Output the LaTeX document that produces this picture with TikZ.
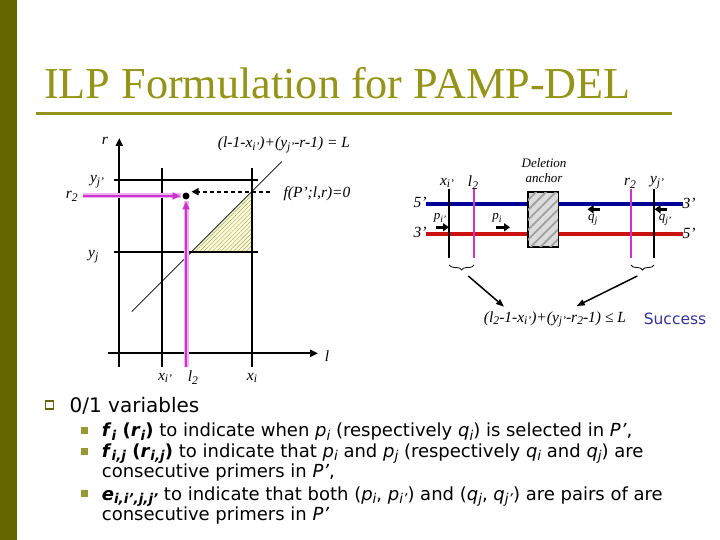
\documentclass[tikz,border=0pt]{standalone}
\usepackage{graphicx}
\usepackage{fontspec}
\setmainfont{Liberation Serif}
\newfontfamily\sansf{DejaVu Sans}
\usetikzlibrary{arrows.meta,patterns,patterns.meta,decorations.pathreplacing}
\definecolor{olivedark}{HTML}{666600}
\definecolor{titlecol}{HTML}{949418}
\definecolor{bulletcol}{HTML}{999933}
\definecolor{mag}{HTML}{CC33CC}
\definecolor{maglight}{HTML}{EEB0EE}
\definecolor{dnablue}{HTML}{000099}
\definecolor{dnared}{HTML}{CC1111}
\definecolor{succ}{HTML}{333399}
\definecolor{paleyellow}{HTML}{FBFBD8}
\definecolor{hatchline}{HTML}{A8A860}
\definecolor{boxgray}{HTML}{DCDCDC}
\definecolor{boxline}{HTML}{A0A0A0}
\newcommand{\sbs}[1]{\raisebox{-0.4ex}{\scalebox{0.75}{#1}}}
\begin{document}
\begin{tikzpicture}[x=1pt,y=-1pt,
  thickline/.style={line width=2.2pt,black},
  axisarrow/.style={line width=2.2pt,black,-{Triangle[length=8pt,width=7pt]}},
  magarrow/.style={line width=2pt,mag,-{Triangle[length=8pt,width=7pt]}},
  glow/.style={line width=5pt,maglight},
  lbl/.style={font=\fontsize{15.5}{18}\selectfont\itshape,inner sep=0pt},
  smalllbl/.style={font=\fontsize{13}{15}\selectfont\itshape,inner sep=0pt},
  blockarrow/.style={line width=3pt,black,-{Triangle[length=6pt,width=8pt]}},
  bigtxt/.style={font=\sansf\fontsize{20}{24}\selectfont,inner sep=0pt,anchor=base west},
  subtxt/.style={font=\sansf\fontsize{18}{21}\selectfont,inner sep=0pt,anchor=base west},
  subbullet/.style={fill=bulletcol,minimum size=7pt,inner sep=0pt},
]
\useasboundingbox (0,0) rectangle (720,540);
\fill[white] (0,0) rectangle (720,540);
\fill[olivedark] (0,0) rectangle (17,540);
% title
\node[font=\fontsize{44.2}{50}\selectfont,text=titlecol,inner sep=0pt,anchor=base west] (title) at (44,98.3) {ILP Formulation for PAMP-DEL};
\coordinate (ruleL) at (36,113.3);
\coordinate (ruleR) at (672,113.3);
\draw[titlecol,line width=3.5pt] (ruleL) -- (ruleR);

% ---------- left graph ----------
\coordinate (tri1) at (191.7,251.7);
\coordinate (tri2) at (252,251.7);
\coordinate (tri3) at (252,191.7);
\fill[paleyellow] (tri1) -- (tri2) -- (tri3) -- cycle;
\fill[pattern={Lines[angle=45,distance=3pt,line width=0.5pt]},pattern color=hatchline] (tri1) -- (tri2) -- (tri3) -- cycle;

\coordinate (rB) at (119.3,366.7);
\coordinate (rT) at (119.3,138);
\coordinate (lL) at (108,353.3);
\coordinate (lR) at (318,353.3);
\draw[axisarrow] (rB) -- (rT);
\draw[axisarrow] (lL) -- (lR);
\coordinate (xipT) at (161.7,168);
\coordinate (xipB) at (161.7,366.7);
\coordinate (xiT) at (252,168);
\coordinate (xiB) at (252,366.7);
\coordinate (yjpL) at (114,180);
\coordinate (yjpR) at (258,180);
\coordinate (yjL) at (114,251.7);
\coordinate (yjR) at (258,251.7);
\draw[thickline] (xipT) -- (xipB);
\draw[thickline] (xiT) -- (xiB);
\draw[thickline] (yjpL) -- (yjpR);
\draw[thickline] (yjL) -- (yjR);
\coordinate (diagA) at (131.7,311.7);
\coordinate (diagB) at (281.7,161.7);
\draw[line width=0.6pt] (diagA) -- (diagB);

\coordinate (l2B) at (186,366.7);
\coordinate (l2T) at (186,201.5);
\coordinate (r2L) at (83,196);
\coordinate (r2R) at (180.5,196);
\draw[glow] (l2B) -- (l2T);
\draw[glow] (r2L) -- (r2R);
\draw[magarrow] (l2B) -- (l2T);
\draw[magarrow] (r2L) -- (r2R);
\node[circle,fill=black,minimum size=7pt,inner sep=0pt] (dot) at (186,196) {};
\coordinate (dashS) at (270,191.7);
\coordinate (dashE) at (191.5,191.7);
\draw[line width=1.8pt,dash pattern=on 4pt off 3pt,-{Triangle[length=7pt,width=7pt]}] (dashS) -- (dashE);

\node[lbl] (rlab) at (105,141) {r};
\node[lbl] (llab) at (327,356) {l};
\node[lbl] (yjplab) at (97,181.7) {y\sbs{j’}};
\node[lbl] (r2lab) at (71.7,196.7) {r\sbs{2}};
\node[lbl] (yjlab) at (93.3,256.7) {y\sbs{j}};
\node[lbl] (eqlab) at (284,145) {(l-1-x\sbs{i’})+(y\sbs{j’}-r-1) = L};
\node[lbl] (flab) at (317,194) {f(P’;l,r)=0};
\node[lbl] (xiplab) at (165,378) {x\sbs{i’}};
\node[lbl] (l2lab) at (193,378) {l\sbs{2}};
\node[lbl] (xilab) at (252,378) {x\sbs{i}};

% ---------- right diagram ----------
\coordinate (blueL) at (426,204);
\coordinate (blueR) at (683,204);
\coordinate (redL) at (426,234);
\coordinate (redR) at (683,234);
\draw[dnablue,line width=3.3pt] (blueL) -- (blueR);
\draw[dnared,line width=3.3pt] (redL) -- (redR);
\node[draw=black,line width=1pt,fill=boxgray,minimum width=30pt,minimum height=54.4pt,inner sep=0pt] (anchorbox) at (543.3,219.5) {};
\fill[pattern={Lines[angle=45,distance=7pt,line width=1.8pt]},pattern color=boxline] (anchorbox.south west) rectangle (anchorbox.north east);
\draw[line width=1pt] (anchorbox.south west) rectangle (anchorbox.north east);

\coordinate (v1T) at (449.3,189);
\coordinate (v1B) at (449.3,258);
\coordinate (v2T) at (474,189);
\coordinate (v2B) at (474,258);
\coordinate (v3T) at (631,189);
\coordinate (v3B) at (631,258);
\coordinate (v4T) at (654,189);
\coordinate (v4B) at (654,258);
\draw[thickline] (v1T) -- (v1B);
\draw[mag,line width=1.1pt] (v2T) -- (v2B);
\draw[mag,line width=1.1pt] (v3T) -- (v3B);
\draw[thickline] (v4T) -- (v4B);

\node[lbl] (fiveL) at (420,202) {5’};
\node[lbl] (threeL) at (420,232) {3’};
\node[lbl] (threeR) at (689,203) {3’};
\node[lbl] (fiveR) at (689,233) {5’};
\node[smalllbl] (del1) at (544,163) {Deletion};
\node[smalllbl] (del2) at (544,178) {anchor};
\node[lbl] (xip2) at (447,183) {x\sbs{i’}};
\node[lbl] (l22) at (473,183) {l\sbs{2}};
\node[lbl] (r22) at (630,183) {r\sbs{2}};
\node[lbl] (yjp2) at (657,183) {y\sbs{j’}};

\coordinate (pa1S) at (436,227.3);
\coordinate (pa1E) at (449,227.3);
\coordinate (pa2S) at (496,227.3);
\coordinate (pa2E) at (510,227.3);
\coordinate (qa1S) at (600,209.3);
\coordinate (qa1E) at (587.5,209.3);
\coordinate (qa2S) at (667,209.3);
\coordinate (qa2E) at (654.5,209.3);
\draw[blockarrow] (pa1S) -- (pa1E);
\draw[blockarrow] (pa2S) -- (pa2E);
\draw[blockarrow] (qa1S) -- (qa1E);
\draw[blockarrow] (qa2S) -- (qa2E);
\node[smalllbl] (pip) at (440,218) {p\sbs{i’}};
\node[smalllbl] (pi) at (497,218) {p\sbs{i}};
\node[smalllbl] (qj) at (592.7,220) {q\sbs{j}};
\node[smalllbl] (qjp) at (665,220) {q\sbs{j’}};

\coordinate (brLa) at (449.3,265);
\coordinate (brLb) at (474,265);
\coordinate (brRa) at (631,265);
\coordinate (brRb) at (654,265);
\draw[line width=0.8pt,decorate,decoration={brace,amplitude=5pt,mirror}] (brLa) -- (brLb);
\draw[line width=0.8pt,decorate,decoration={brace,amplitude=5pt,mirror}] (brRa) -- (brRb);
\coordinate (arLS) at (468.3,276);
\coordinate (arLE) at (504,306.7);
\coordinate (arRS) at (637.3,276);
\coordinate (arRE) at (576.7,306);
\draw[line width=1.5pt,-{Triangle[length=8pt,width=6pt]}] (arLS) -- (arLE);
\draw[line width=1.5pt,-{Triangle[length=8pt,width=6pt]}] (arRS) -- (arRE);
\node[lbl] (ineq) at (555,319.3) {(l\sbs{2}-1-x\sbs{i’})+(y\sbs{j’}-r\sbs{2}-1) ≤ L};
\node[font=\sansf\fontsize{15.5}{18}\selectfont,text=succ,inner sep=0pt] (success) at (675,319.3) {Success};

% ---------- bullets ----------
\node[draw=olivedark,line width=1.3pt,minimum size=8pt,inner sep=0pt] (b0) at (49.5,405) {};
\node[bigtxt] (t0) at (69.5,412) {0/1 variables};
\node[subbullet] (b1) at (84,430.5) {};
\node[subbullet] (b2) at (84,451) {};
\node[subbullet] (b3) at (84,493.5) {};
\node[subtxt] (t1) at (101.7,436.5) {\textbf{\textit{f}\sbs{\textit{i}} (\textit{r}\sbs{\textit{i}})} to indicate when \textit{p}\sbs{\textit{i}} (respectively \textit{q}\sbs{\textit{i}}) is selected in \textit{P’},};
\node[subtxt] (t2) at (101.7,457) {\textbf{\textit{f}\sbs{\textit{i,j}} (\textit{r}\sbs{\textit{i,j}})} to indicate that \textit{p}\sbs{\textit{i}} and \textit{p}\sbs{\textit{j}} (respectively \textit{q}\sbs{\textit{i}} and \textit{q}\sbs{\textit{j}}) are};
\node[subtxt] (t3) at (101.7,477.5) {consecutive primers in \textit{P’},};
\node[subtxt] (t4) at (101.7,500) {\textbf{\textit{e}\sbs{\textit{i,i’,j,j’}}} to indicate that both (\textit{p}\sbs{\textit{i}}, \textit{p}\sbs{\textit{i’}}) and (\textit{q}\sbs{\textit{j}}, \textit{q}\sbs{\textit{j’}}) are pairs of are};
\node[subtxt] (t5) at (101.7,520.5) {consecutive primers in \textit{P’}};
\end{tikzpicture}
\end{document}
